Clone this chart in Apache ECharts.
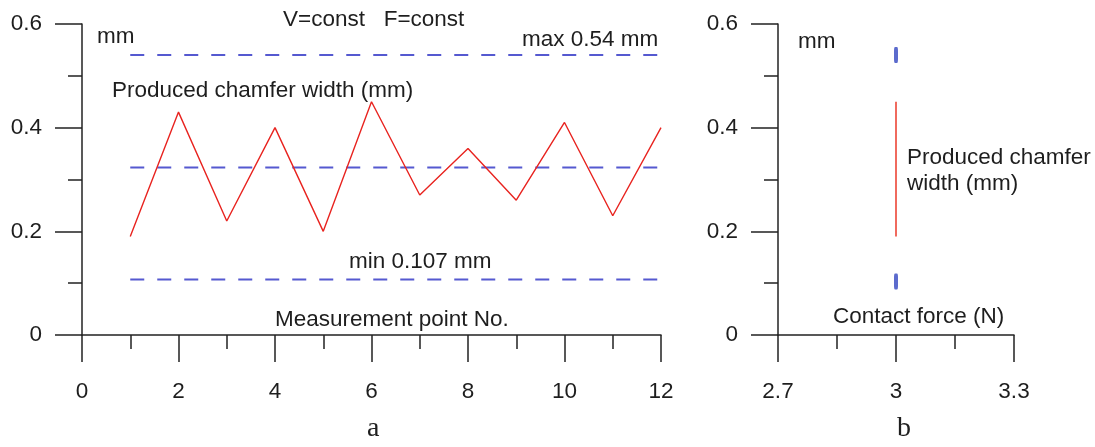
<!DOCTYPE html>
<html>
<head>
<meta charset="utf-8">
<script src="https://cdn.jsdelivr.net/npm/echarts@6/dist/echarts.min.js"></script>
<style>
html,body{margin:0;padding:0;background:#fff;}
#c{width:1095px;height:447px;}
</style>
</head>
<body>
<div id="c"></div>
<script>
// ---- data ----
const pointNo = [1,2,3,4,5,6,7,8,9,10,11,12];
const chamferWidth = [0.19,0.43,0.22,0.40,0.20,0.45,0.27,0.36,0.26,0.41,0.23,0.40];
const maxLimit = 0.54;
const meanLine = 0.323;
const minLimit = 0.107;
const contactForce = 3;
const rangeLow = 0.19, rangeHigh = 0.45;
const limitMarks = [0.54, 0.103];
const leftXTicks = [0,2,4,6,8,10,12];
const rightXTicks = [2.7,3,3.3];
const yTicks = [0,0.2,0.4,0.6];

const FONT = 'Liberation Sans, Arial, sans-serif';
const AX = '#222';
const RED = '#e8231f';
const BLUE = '#5559d0';
const FS = 22.5;

function axisCommon(){
  return {
    axisLine:{show:true,onZero:false,lineStyle:{color:AX,width:1.5}},
    axisTick:{show:true,inside:false,length:27,lineStyle:{color:AX,width:1.5}},
    minorTick:{show:true,splitNumber:2,length:14,lineStyle:{color:AX,width:1.5}},
    splitLine:{show:false},
    minorSplitLine:{show:false}
  };
}
function fmt(v){ return String(Math.round(v*10)/10); }

const first = pointNo[0], last = pointNo[pointNo.length-1];
const txt = (t,l,tp,extra)=>({type:'text',left:l,top:tp,style:Object.assign({text:t,font:FS+'px '+FONT,fill:'#1e1e1e'},extra||{})});

const option = {
  animation:false,
  backgroundColor:'#fff',
  grid:[
    {left:82, top:24, width:579, height:311},
    {left:778, top:24, width:236, height:311}
  ],
  xAxis:[
    Object.assign(axisCommon(),{gridIndex:0,type:'value',min:leftXTicks[0],max:leftXTicks[leftXTicks.length-1],interval:2,
      axisLabel:{margin:45,fontSize:FS,fontFamily:FONT,color:'#1e1e1e',formatter:fmt}}),
    Object.assign(axisCommon(),{gridIndex:1,type:'value',min:rightXTicks[0],max:rightXTicks[2],interval:0.3,
      axisLabel:{margin:45,fontSize:FS,fontFamily:FONT,color:'#1e1e1e',formatter:fmt}})
  ],
  yAxis:[
    Object.assign(axisCommon(),{gridIndex:0,type:'value',min:yTicks[0],max:yTicks[3],interval:0.2,
      axisLabel:{margin:40,fontSize:FS,fontFamily:FONT,color:'#1e1e1e',formatter:fmt}}),
    Object.assign(axisCommon(),{gridIndex:1,type:'value',min:yTicks[0],max:yTicks[3],interval:0.2,
      axisLabel:{margin:40,fontSize:FS,fontFamily:FONT,color:'#1e1e1e',formatter:fmt}})
  ],
  series:[
    {type:'line',xAxisIndex:0,yAxisIndex:0,data:[[first,maxLimit],[last,maxLimit]],symbol:'none',
      lineStyle:{color:BLUE,width:2,type:[14,13]}},
    {type:'line',xAxisIndex:0,yAxisIndex:0,data:[[first,meanLine],[last,meanLine]],symbol:'none',
      lineStyle:{color:BLUE,width:2,type:[14,13]}},
    {type:'line',xAxisIndex:0,yAxisIndex:0,data:[[first,minLimit],[last,minLimit]],symbol:'none',
      lineStyle:{color:BLUE,width:2,type:[14,13]}},
    {type:'line',xAxisIndex:0,yAxisIndex:0,data:pointNo.map((x,i)=>[x,chamferWidth[i]]),symbol:'none',
      lineStyle:{color:RED,width:1.4}},
    {type:'line',xAxisIndex:1,yAxisIndex:1,data:[[contactForce,rangeLow],[contactForce,rangeHigh]],symbol:'none',
      lineStyle:{color:'#f06a5e',width:2}},
    {type:'scatter',xAxisIndex:1,yAxisIndex:1,data:limitMarks.map(v=>[contactForce,v]),
      symbol:'roundRect',symbolSize:[4,16],itemStyle:{color:'#3346c0'}}
  ],
  graphic:[
    txt('V=const   F=const',283,8),
    txt('mm',97,25),
    txt('max 0.54 mm',522,28),
    txt('Produced chamfer width (mm)',112,79),
    txt('min 0.107 mm',349,250),
    txt('Measurement point No.',275,308),
    txt('mm',798,30),
    txt('Produced chamfer\nwidth (mm)',907,145,{lineHeight:26}),
    txt('Contact force (N)',833,305),
    {type:'text',left:367,top:415,style:{text:'a',font:'28px Liberation Serif, Times New Roman, serif',fill:'#1e1e1e'}},
    {type:'text',left:897,top:415,style:{text:'b',font:'28px Liberation Serif, Times New Roman, serif',fill:'#1e1e1e'}}
  ]
};
const chart = echarts.init(document.getElementById('c'),null,{renderer:'canvas'});
chart.setOption(option);
</script>
</body>
</html>
